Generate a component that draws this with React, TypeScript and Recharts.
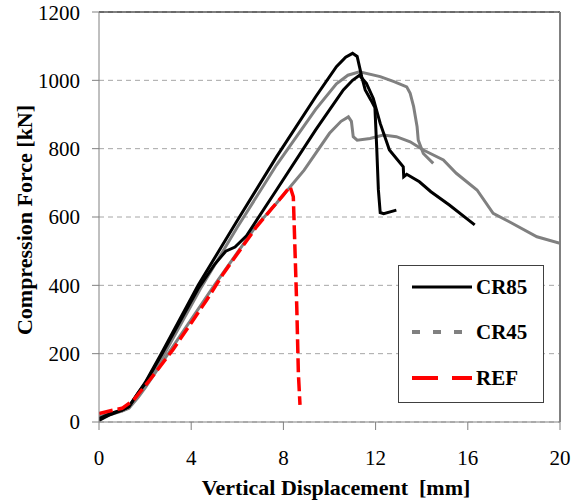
import React from "react";
import { LineChart, Line, XAxis, YAxis, CartesianGrid, ReferenceLine, Legend, Label } from "recharts";

// displacement [mm], force [kN] pairs
const cr85A: [number, number][] = [
    [0, 5], [0.5, 22], [1.0, 35], [1.3, 45], [1.7, 85], [2.0, 115], [2.7, 200], [4.3, 400],
    [6.0, 590], [7.7, 776], [9.4, 952], [10.3, 1040], [10.7, 1068], [11.0, 1079], [11.2, 1070],
    [11.3, 1040], [11.4, 1010], [11.55, 972], [11.8, 942], [11.97, 920], [12.05, 800],
    [12.12, 680], [12.2, 613], [12.35, 610], [12.9, 620],
];
const cr85B: [number, number][] = [
    [0, 10], [0.5, 25], [1.0, 35], [1.3, 45], [1.7, 85], [2.0, 112], [2.7, 195], [4.3, 390],
    [5.0, 460], [5.5, 500], [5.9, 512], [6.4, 545], [7.7, 679], [9.4, 855], [10.6, 972],
    [11.0, 1000], [11.3, 1015], [11.6, 991], [11.9, 947], [12.2, 874], [12.6, 796], [13.2, 747],
    [13.22, 718], [13.35, 725], [13.9, 703], [14.4, 674], [15.2, 635], [16.3, 577],
];
const cr45A: [number, number][] = [
    [0, 15], [0.5, 25], [1.0, 33], [1.3, 42], [1.7, 80], [2.0, 108], [2.8, 195], [4.4, 390],
    [6.0, 570], [7.7, 752], [9.4, 915], [10.3, 990], [10.8, 1015], [11.3, 1025], [12.2, 1011],
    [12.8, 996], [13.35, 981], [13.5, 962], [13.65, 923], [13.8, 864], [13.85, 825],
    [14.07, 786], [14.5, 757],
];
const cr45B: [number, number][] = [
    [0, 10], [0.5, 22], [1.0, 32], [1.3, 40], [1.7, 72], [2.0, 100], [3.0, 200], [5.0, 400],
    [6.8, 572], [7.7, 640], [8.9, 737], [10.0, 845], [10.5, 880], [10.82, 893], [10.95, 880],
    [11.03, 835], [11.2, 825], [11.76, 830], [12.33, 840], [12.9, 835], [13.5, 820],
    [14.07, 796], [14.94, 767], [15.5, 728], [16.4, 679], [17.1, 611], [17.8, 586],
    [19.0, 542], [20, 523],
];
const refData: [number, number][] = [
    [0, 25], [0.5, 33], [1.0, 40], [1.5, 64], [2.2, 123], [3.2, 211], [4.0, 290], [4.67, 357],
    [5.4, 435], [6.84, 572], [7.5, 625], [8.0, 665], [8.29, 689], [8.43, 659], [8.58, 337],
    [8.65, 142], [8.72, 50],
];

const xTicks = [0, 4, 8, 12, 16, 20];
const yTicks = [0, 200, 400, 600, 800, 1000, 1200];

const toPoints = (arr: [number, number][]) => arr.map(([x, y]) => ({ x, y }));

const FONT = "Liberation Serif";

const legendItems = [
    { name: "CR85", color: "#000000", dash: undefined as string | undefined, width: 3 },
    { name: "CR45", color: "#808080", dash: "8 13", width: 4 },
    { name: "REF", color: "#ff0000", dash: "26 14", width: 4 },
];

function ChartLegend() {
    const rows = [22, 67, 113];
    return (
        <svg width={146} height={138} style={{ display: "block" }}>
            <rect x={0.5} y={0.5} width={145} height={137} fill="#fff" stroke="#404040" strokeWidth={1} />
            {legendItems.map((it, i) => (
                <g key={it.name}>
                    <line x1={14} x2={74} y1={rows[i]} y2={rows[i]} stroke={it.color}
                        strokeWidth={it.width} strokeDasharray={it.dash} />
                    <text x={78} y={rows[i]} dy="0.35em" fontWeight={700}
                        fontSize={21} fill="#000" style={{ fontFamily: FONT }}>{it.name}</text>
                </g>
            ))}
        </svg>
    );
}

export default function App() {
    const tick = { fontSize: 21, fill: "#000", style: { fontFamily: FONT } };
    return (
        <div style={{ position: "absolute", left: 0, top: 0, background: "#fff", fontFamily: FONT }}>
            <LineChart width={573} height={504} margin={{ top: 12, right: 13, bottom: 0, left: 0 }}
                style={{ fontFamily: FONT }}>
                <CartesianGrid vertical={false} strokeDasharray="5 4" stroke="#a6a6a6" />
                <XAxis type="number" dataKey="x" domain={[0, 20]} ticks={xTicks} height={82}
                    stroke="#808080" tickSize={8} tickMargin={20} tick={tick} allowDataOverflow>
                    <Label content={() => (
                        <text x={336} y={495} textAnchor="middle" fontWeight={700}
                            fontSize={22} fill="#000" style={{ whiteSpace: "pre", fontFamily: FONT }}>
                            {"Vertical Displacement  [mm]"}
                        </text>
                    )} />
                </XAxis>
                <YAxis type="number" domain={[0, 1200]} ticks={yTicks} width={99}
                    stroke="#808080" tickSize={7} tickMargin={12} tick={tick} allowDataOverflow>
                    <Label content={() => (
                        <text x={24} y={220} transform="rotate(-90 24 220)" textAnchor="middle"
                            dominantBaseline="central" fontWeight={700}
                            fontSize={22} fill="#000" style={{ fontFamily: FONT }}>
                            Compression Force [kN]
                        </text>
                    )} />
                </YAxis>
                <ReferenceLine y={1200} stroke="#000" strokeWidth={1} />
                <ReferenceLine x={20} stroke="#808080" strokeWidth={2} />
                <Line data={toPoints(cr45B)} dataKey="y" stroke="#808080" strokeWidth={3}
                    dot={false} isAnimationActive={false} />
                <Line data={toPoints(cr45A)} dataKey="y" stroke="#808080" strokeWidth={3}
                    dot={false} isAnimationActive={false} />
                <Line data={toPoints(cr85B)} dataKey="y" stroke="#000" strokeWidth={3}
                    dot={false} isAnimationActive={false} />
                <Line data={toPoints(cr85A)} dataKey="y" stroke="#000" strokeWidth={3}
                    dot={false} isAnimationActive={false} />
                <Line data={toPoints(refData)} dataKey="y" stroke="#ff0000" strokeWidth={3.5}
                    strokeDasharray="14 5" dot={false} isAnimationActive={false} />
                <Legend layout="horizontal" align="center" verticalAlign="middle"
                    wrapperStyle={{ left: 398, top: 265, width: 146, height: 138 }}
                    content={() => <ChartLegend />} />
            </LineChart>
        </div>
    );
}
